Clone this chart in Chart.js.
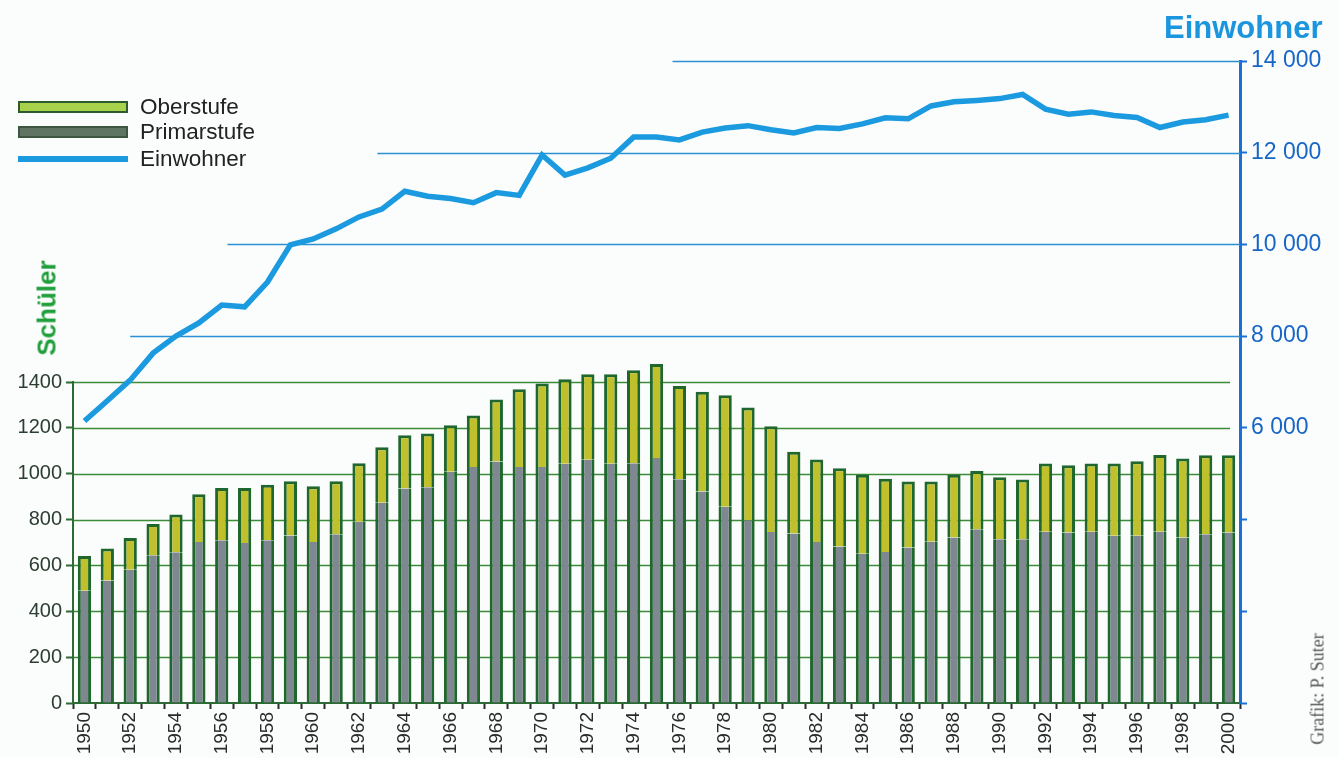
<!DOCTYPE html>
<html>
<head>
<meta charset="utf-8">
<script src="https://cdn.jsdelivr.net/npm/chart.js@4.4.0/dist/chart.umd.min.js"></script>
<style>
  body { margin: 0; background: #fbfdfd; }
  #wrap { position: relative; width: 1338px; height: 758px; overflow: hidden; }
  #chart { position: absolute; left: 0; top: 0; }
  .txt { position: absolute; font-family: 'Liberation Sans', Arial, Helvetica, sans-serif; white-space: nowrap; }
  .legend-row { position: absolute; left: 18px; height: 26px; display: flex; align-items: center; font-size: 22.5px; color: #222; }
  .sw { width: 110px; margin-right: 12px; box-sizing: border-box; }
</style>
</head>
<body>
<div id="wrap">
  <canvas id="chart" width="1338" height="758"></canvas>

  <div class="txt" style="left:1164px; top:10px; font-size:31px; font-weight:bold; color:#1b96de;">Einwohner</div>
  <div class="txt" style="left:47px; top:308px; font-size:26px; font-weight:bold; color:#1f9e3a; transform: translate(-50%, -50%) rotate(-90deg);">Schüler</div>
  <div class="txt" style="left:1318px; top:689px; font-family:'Liberation Serif', 'Times New Roman', serif; font-size:18px; color:#555; transform: translate(-50%, -50%) rotate(-90deg);">Grafik: P. Suter</div>

  <div class="legend-row txt" style="top:94px;"><div class="sw" style="height:12px; background:#a9d24c; border:2px solid #2e5a30;"></div>Oberstufe</div>
  <div class="legend-row txt" style="top:119px;"><div class="sw" style="height:12px; background:#5f7462; border:2px solid #3d5640;"></div>Primarstufe</div>
  <div class="legend-row txt" style="top:146px;"><div class="sw" style="height:6px; background:#1b9ae0;"></div>Einwohner</div>
</div>

<script>
// Jahre 1950 - 2000
const years = Array.from({ length: 51 }, (_, i) => String(1950 + i));

// Schüler Primarstufe
const primarstufe = [
  490, 534, 581, 644, 658, 702, 710, 698, 710, 731,
  702, 736, 790, 873, 936, 941, 1009, 1029, 1053, 1029,
  1029, 1043, 1061, 1043, 1046, 1068, 976, 922, 856, 797,
  746, 739, 702, 683, 651, 659, 678, 703, 722, 758,
  714, 714, 747, 744, 747, 729, 729, 747, 722, 736, 744
];

// Schüler Oberstufe
const oberstufe = [
  151, 140, 139, 137, 164, 208, 228, 240, 242, 236,
  243, 231, 256, 242, 232, 234, 202, 225, 271, 339,
  364, 369, 373, 391, 405, 411, 407, 436, 486, 492,
  461, 357, 360, 341, 344, 319, 288, 263, 274, 254,
  271, 261, 298, 293, 298, 316, 325, 335, 344, 344, 336
];

// Einwohner
const einwohner = [
  6150, 6590, 7040, 7630, 8000, 8290, 8680, 8640, 9180, 9990,
  10120, 10340, 10600, 10770, 11160, 11050, 11000, 10910, 11130, 11070,
  11950, 11510, 11670, 11880, 12340, 12340, 12280, 12450, 12540, 12590,
  12500, 12430, 12550, 12530, 12630, 12760, 12740, 13020, 13110, 13140,
  13180, 13270, 12950, 12840, 12890, 12810, 12770, 12550, 12670, 12720, 12820
];

// tick values
const schuelerTicks = [200, 400, 600, 800, 1000, 1200, 1400];
const einwohnerTicks = [8000, 10000, 12000, 14000];

const GREEN_AXIS = '#2d6a36';
const BLUE_AXIS = '#1a6fd6';

function fmtThousands(v) {
  return String(v).replace(/\B(?=(\d{3})+(?!\d))/g, ' ');
}

// horizontal guide lines; the blue ones start at a category position
const guideLines = {
  id: 'guideLines',
  beforeDatasetsDraw(chart, args, opts) {
    const { ctx, chartArea, scales: { x, y, y1 } } = chart;
    ctx.save();
    ctx.lineWidth = 1.5;
    ctx.strokeStyle = '#3a8c38';
    schuelerTicks.forEach(v => {
      const py = Math.round(y.getPixelForValue(v)) + 0.5;
      ctx.beginPath();
      ctx.moveTo(chartArea.left, py);
      ctx.lineTo(chartArea.right - 10, py);
      ctx.stroke();
    });
    ctx.strokeStyle = '#2b90d4';
    einwohnerTicks.forEach((v, i) => {
      const py = Math.round(y1.getPixelForValue(v)) + 0.5;
      ctx.beginPath();
      ctx.moveTo(x.getPixelForValue(opts.starts[i]), py);
      ctx.lineTo(chartArea.right, py);
      ctx.stroke();
    });
    ctx.restore();
  },
  afterDraw(chart) {
    const { ctx, chartArea, scales: { y } } = chart;
    ctx.save();
    ctx.strokeStyle = GREEN_AXIS;
    ctx.lineWidth = 2;
    ctx.beginPath();
    ctx.moveTo(chartArea.left, y.getPixelForValue(0));
    ctx.lineTo(chartArea.left, y.getPixelForValue(1400) - 1);
    ctx.stroke();
    ctx.restore();
  }
};

new Chart(document.getElementById('chart'), {
  data: {
    labels: years,
    datasets: [
      {
        type: 'line',
        label: 'Einwohner',
        data: einwohner,
        yAxisID: 'y1',
        borderColor: '#1b9ae0',
        borderWidth: 5.5,
        pointRadius: 0,
        tension: 0,
        order: 0
      },
      {
        type: 'bar',
        label: 'Primarstufe',
        data: primarstufe,
        yAxisID: 'y',
        stack: 's',
        backgroundColor: '#7f8890',
        borderColor: '#1f672d',
        borderWidth: { left: 3, right: 3, top: 0, bottom: 0 },
        borderSkipped: false,
        barPercentage: 0.58,
        categoryPercentage: 1,
        order: 1
      },
      {
        type: 'bar',
        label: 'Oberstufe',
        data: oberstufe,
        yAxisID: 'y',
        stack: 's',
        backgroundColor: '#c0c02c',
        borderColor: '#1f672d',
        borderWidth: { left: 3, right: 3, top: 3, bottom: 0 },
        borderSkipped: false,
        barPercentage: 0.58,
        categoryPercentage: 1,
        order: 1
      }
    ]
  },
  options: {
    responsive: false,
    animation: false,
    layout: { padding: { top: 61, left: 0, right: 0, bottom: 0 } },
    plugins: {
      legend: { display: false },
      tooltip: { enabled: false },
      guideLines: { starts: [2.0, 6.25, 12.8, 25.7] }
    },
    scales: {
      x: {
        stacked: true,
        offset: true,
        afterFit: s => { s.height = 55; },
        grid: {
          drawOnChartArea: false,
          drawTicks: true,
          tickLength: 6,
          tickWidth: 2,
          tickColor: '#2a2a2a',
          offset: true
        },
        border: { color: GREEN_AXIS, width: 2 },
        ticks: {
          autoSkip: false,
          maxRotation: 90,
          minRotation: 90,
          padding: 3,
          color: '#2a2a2a',
          font: { family: "'Liberation Sans', Arial, sans-serif", size: 19 },
          callback: (v, i) => (i % 2 === 0 ? years[i] : '')
        }
      },
      y: {
        stacked: true,
        position: 'left',
        min: 0,
        max: 2800,
        afterFit: s => { s.width = 73; },
        grid: {
          drawOnChartArea: false,
          tickLength: 7,
          tickWidth: 2,
          tickColor: c => (c.tick && c.tick.value <= 1400 ? GREEN_AXIS : 'transparent')
        },
        border: { display: false },
        ticks: {
          stepSize: 200,
          autoSkip: false,
          padding: 4,
          color: '#2c3d31',
          font: { family: "'Liberation Sans', Arial, sans-serif", size: 20 },
          callback: v => (v <= 1400 ? String(v) : '')
        }
      },
      y1: {
        position: 'right',
        min: 0,
        max: 14000,
        afterFit: s => { s.width = 98; },
        grid: {
          drawOnChartArea: false,
          tickLength: 7,
          tickWidth: 2,
          tickColor: BLUE_AXIS
        },
        border: { color: BLUE_AXIS, width: 3 },
        ticks: {
          stepSize: 2000,
          autoSkip: false,
          padding: 4,
          color: '#1766c6',
          font: { family: "'Liberation Sans', Arial, sans-serif", size: 23 },
          callback: v => (v >= 6000 ? fmtThousands(v) : '')
        }
      }
    }
  },
  plugins: [guideLines]
});
</script>
</body>
</html>
